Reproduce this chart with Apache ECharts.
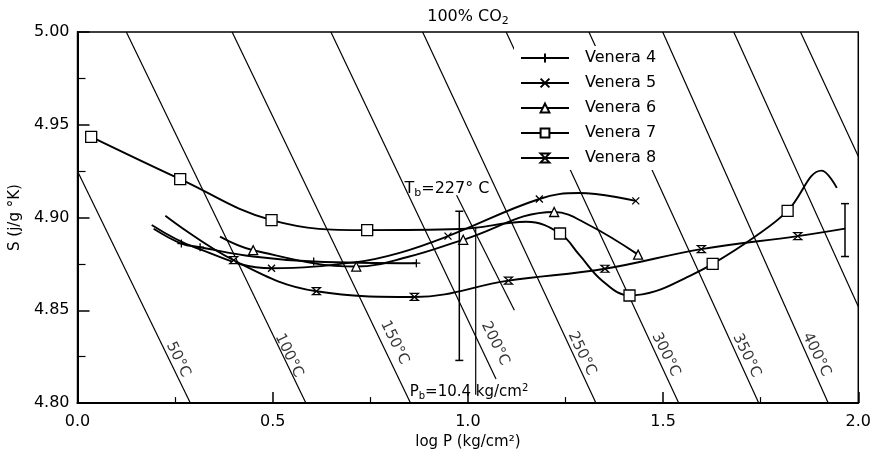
<!DOCTYPE html>
<html>
<head>
<meta charset="utf-8">
<script src="https://cdn.jsdelivr.net/npm/echarts@6/dist/echarts.min.js"></script>
<style>
html, body { margin: 0; padding: 0; background: #fff; }
#chart { width: 874px; height: 455px; }
</style>
</head>
<body>
<div id="chart"></div>
<script>
// S (j/g °K) vs log P
const venera4 = [[0.195, 4.894], [0.266, 4.886], [0.314, 4.884], [0.45, 4.879], [0.605, 4.8763], [0.868, 4.8754]]
const venera4Marks = [1, 2, 4, 5]

const venera5 = [[0.19, 4.896], [0.30, 4.884], [0.497, 4.8727], [0.714, 4.876], [0.825, 4.881], [0.949, 4.890], [1.183, 4.910], [1.285, 4.9132], [1.43, 4.909]]
const venera5Marks = [2, 5, 6, 8]

const venera6 = [[0.365, 4.8897], [0.45, 4.8824], [0.714, 4.8736], [0.85, 4.879], [0.988, 4.888], [1.221, 4.903], [1.31, 4.896], [1.436, 4.880]]
const venera6Marks = [1, 2, 4, 5, 7]

const venera7 = [[0.035, 4.9435], [0.263, 4.9207], [0.497, 4.8986], [0.742, 4.8932], [0.98, 4.8938], [1.15, 4.8977], [1.236, 4.8914], [1.285, 4.880], [1.344, 4.866], [1.414, 4.858], [1.481, 4.8603], [1.557, 4.8674], [1.627, 4.875], [1.736, 4.8898], [1.819, 4.9036], [1.906, 4.9253], [1.945, 4.916]]
const venera7Marks = [0, 1, 2, 3, 6, 9, 12, 14]

const venera8 = [[0.225, 4.901], [0.40, 4.877], [0.612, 4.8603], [0.863, 4.8572], [1.104, 4.866], [1.351, 4.8724], [1.598, 4.883], [1.845, 4.890], [1.966, 4.894]]
const venera8Marks = [1, 2, 3, 4, 5, 6, 7]

// isotherms (start, end) in data coords
const isoLines = [
  [[0.000, 4.925], [0.289, 4.800]],
  [[0.125, 5.000], [0.585, 4.800]],
  [[0.396, 5.000], [0.853, 4.800]],
  [[0.649, 5.000], [1.072, 4.813]],
  [[0.884, 5.000], [1.328, 4.800]],
  [[1.098, 5.000], [1.540, 4.800]],
  [[1.310, 5.000], [1.745, 4.800]],
  [[1.499, 5.000], [1.923, 4.800]],
  [[1.681, 5.000], [2.000, 4.852]],
  [[1.852, 5.000], [2.000, 4.933]],
]
const tbLine = [[0.971, 4.912], [1.119, 4.850]]
const pbLine = [[1.02, 4.895], [1.02, 4.8045]]
const isoLabels = ['50°C', '100°C', '150°C', '200°C', '250°C', '300°C', '350°C', '400°C']
const isoLabelPos = [[0.258, 4.8235], [0.5415, 4.8257], [0.812, 4.8326], [1.070, 4.8321], [1.292, 4.8267], [1.507, 4.8262], [1.714, 4.8257], [1.893, 4.8262]]

// error bars: [x, low, high]
const errorBars = [[0.978, 4.823, 4.9034], [1.966, 4.879, 4.9075]]

const FONT = 'DejaVu Sans'

const chart = echarts.init(document.getElementById('chart'))

function curve(name, pts, marks, symbol, size) {
  return {
    name,
    type: 'line',
    smooth: 0.4,
    z: 4,
    symbol,
    symbolSize: size,
    symbolKeepAspect: true,
    showAllSymbol: true,
    lineStyle: { color: '#000', width: 1.9 },
    itemStyle: { color: '#fff', borderColor: '#000', borderWidth: 1.3 },
    data: pts.map((p, i) => marks.includes(i) ? { value: p } : { value: p, symbol: 'none' }),
  }
}

const series = [
  curve('Venera 4', venera4, venera4Marks, 'path://M5,0V10M0,5H10', 8),
  curve('Venera 5', venera5, venera5Marks, 'path://M0,0L10,10M10,0L0,10', 7),
  curve('Venera 6', venera6, venera6Marks, 'triangle', 9),
  curve('Venera 7', venera7, venera7Marks, 'rect', 11),
  curve('Venera 8', venera8, venera8Marks, 'path://M0,0L10,0L0,10L10,10Z', [8, 7]),
]

isoLines.concat([tbLine, pbLine]).forEach(l => {
  series.push({
    type: 'line', silent: true, symbol: 'none', z: 2,
    lineStyle: { color: '#000', width: 1.2 },
    data: l,
  })
})

series.push({
  type: 'scatter', silent: true, symbolSize: 0, z: 3,
  label: {
    show: true, position: 'inside', rotate: -64,
    formatter: p => p.name, fontSize: 15, color: '#000', fontFamily: FONT,
  },
  data: isoLabels.map((t, i) => ({ name: t, value: isoLabelPos[i] })),
})

series.push({
  type: 'custom', silent: true, z: 3,
  encode: { x: 0, y: [1, 2] },
  data: errorBars,
  renderItem(params, api) {
    const lo = api.coord([api.value(0), api.value(1)])
    const hi = api.coord([api.value(0), api.value(2)])
    const st = { stroke: '#000', lineWidth: 1.5 }
    return {
      type: 'group',
      children: [
        { type: 'line', shape: { x1: lo[0], y1: lo[1], x2: hi[0], y2: hi[1] }, style: st },
        { type: 'line', shape: { x1: lo[0] - 4, y1: lo[1], x2: lo[0] + 4, y2: lo[1] }, style: st },
        { type: 'line', shape: { x1: hi[0] - 4, y1: hi[1], x2: hi[0] + 4, y2: hi[1] }, style: st },
      ],
    }
  },
})

chart.setOption({
  animation: false,
  grid: { left: 77, right: 14, top: 32, bottom: 49, show: true, borderColor: '#000', borderWidth: 1.5 },
  legend: {
    data: ['Venera 4', 'Venera 5', 'Venera 6', 'Venera 7', 'Venera 8'],
    orient: 'vertical', left: 514, top: 46,
    itemWidth: 48, itemHeight: 11, itemGap: 9,
    backgroundColor: '#fff', padding: [4, 8, 4, 6],
    textStyle: { fontSize: 16, lineHeight: 16, color: '#000', fontFamily: FONT, padding: [0, 0, 0, 11] },
  },
  xAxis: {
    type: 'value', min: 0, max: 2, interval: 0.5,
    name: 'log P (kg/cm²)', nameLocation: 'middle', nameGap: 26,
    nameTextStyle: { fontSize: 15, color: '#000', fontFamily: FONT },
    axisLine: { lineStyle: { color: '#000', width: 2 } },
    axisTick: { inside: true, length: 11, lineStyle: { color: '#000', width: 1.5 } },
    minorTick: { show: true, splitNumber: 2, length: 6, lineStyle: { color: '#000', width: 1.2 } },
    axisLabel: { margin: 11, fontSize: 16, color: '#000', fontFamily: FONT, formatter: v => v.toFixed(1) },
    splitLine: { show: false },
  },
  yAxis: {
    type: 'value', min: 4.8, max: 5.0, interval: 0.05,
    name: 'S (j/g °K)', nameLocation: 'middle', nameGap: 47,
    nameTextStyle: { fontSize: 15, color: '#000', fontFamily: FONT },
    axisLine: { show: true, lineStyle: { color: '#000', width: 2 } },
    axisTick: { show: true, inside: true, length: 12, lineStyle: { color: '#000', width: 1.5 } },
    minorTick: { show: true, splitNumber: 2, length: 8, lineStyle: { color: '#000', width: 1.2 } },
    axisLabel: { margin: 8, fontSize: 16, color: '#000', fontFamily: FONT, formatter: v => v.toFixed(2) },
    splitLine: { show: false },
  },
  graphic: [
    {
      type: 'text', x: 468, y: 17, z: 10,
      style: {
        text: '100% CO{s|2}', fill: '#000', font: '16px ' + FONT,
        align: 'center', verticalAlign: 'middle',
        rich: { s: { fontSize: 11, padding: [9, 0, 0, 0], fontFamily: FONT } },
      },
    },
    {
      type: 'text', x: 447, y: 189, z: 10,
      style: {
        text: 'T{s|b}=227° C', fill: '#000', font: '16px ' + FONT,
        align: 'center', verticalAlign: 'middle',
        rich: { s: { fontSize: 11, padding: [8, 0, 0, 0], fontFamily: FONT } },
      },
    },
    {
      type: 'text', x: 469, y: 392, z: 10,
      style: {
        text: 'P{s|b}=10.4 kg/cm{p|2}', fill: '#000', font: '15px ' + FONT,
        align: 'center', verticalAlign: 'middle',
        rich: {
          s: { fontSize: 10, padding: [8, 0, 0, 0], fontFamily: FONT },
          p: { fontSize: 10, padding: [0, 0, 8, 0], fontFamily: FONT },
        },
      },
    },
  ],
  series,
})
</script>
</body>
</html>
